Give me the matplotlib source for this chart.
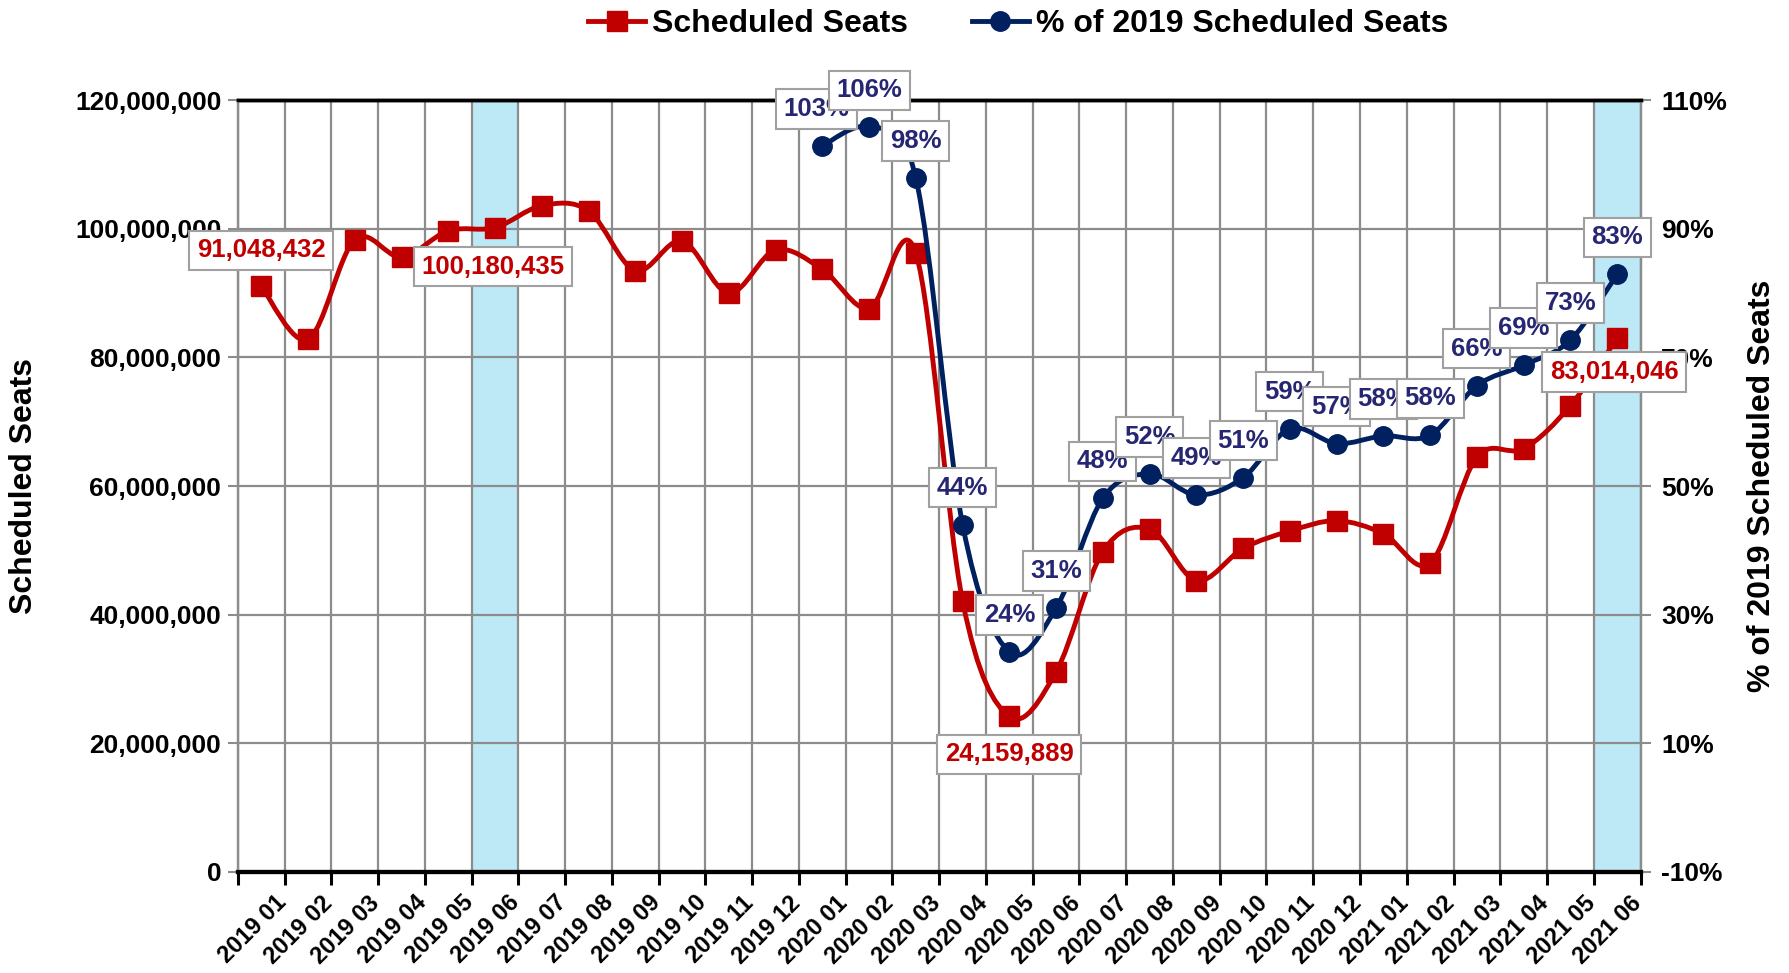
import matplotlib
matplotlib.use("Agg")
import matplotlib.pyplot as plt
from matplotlib.path import Path
from matplotlib.patches import PathPatch
from matplotlib.lines import Line2D
from matplotlib.ticker import FuncFormatter, FixedLocator

plt.rcParams['font.family'] = ['Liberation Sans', 'DejaVu Sans']
plt.rcParams['font.weight'] = 'bold'

months = ['2019 01', '2019 02', '2019 03', '2019 04', '2019 05', '2019 06',
          '2019 07', '2019 08', '2019 09', '2019 10', '2019 11', '2019 12',
          '2020 01', '2020 02', '2020 03', '2020 04', '2020 05', '2020 06',
          '2020 07', '2020 08', '2020 09', '2020 10', '2020 11', '2020 12',
          '2021 01', '2021 02', '2021 03', '2021 04', '2021 05', '2021 06']

# scheduled seats (labelled ones exact)
seats = [91048432, 82800000, 98300000, 95600000, 99700000, 100180435,
         103600000, 102800000, 93500000, 98100000, 90000000, 96700000,
         93700000, 87600000, 96200000, 42100000, 24159889, 31100000,
         49800000, 53300000, 45300000, 50300000, 53000000, 54600000,
         52600000, 48000000, 64500000, 65800000, 72500000, 83014046]

# % of 2019 seats, from 2020 01 on
pct_months = months[12:]
pct = [102.9, 105.8, 97.9, 44.0, 24.2, 31.0, 48.1, 51.9, 48.6, 51.3,
       58.9, 56.6, 57.8, 57.9, 65.6, 68.8, 72.7, 82.9]

seat_labels = {'2019 01': (0, 36), '2019 06': (-2, -39),
               '2020 05': (0, -38), '2021 06': (-3, -34)}
shaded = ['2019 06', '2021 06']

RED = '#C00000'
BLUE = '#002060'
BLUE_TXT = '#262673'


def smooth_path(xs, ys):
    # excel style smoothed line: bezier segments with catmull-rom tangents
    pts = list(zip(xs, ys))
    verts = [pts[0]]
    codes = [Path.MOVETO]
    n = len(pts)
    for i in range(n - 1):
        p0 = pts[i - 1] if i > 0 else pts[i]
        p1 = pts[i]
        p2 = pts[i + 1]
        p3 = pts[i + 2] if i + 2 < n else pts[i + 1]
        c1 = (p1[0] + (p2[0] - p0[0]) / 6, p1[1] + (p2[1] - p0[1]) / 6)
        c2 = (p2[0] - (p3[0] - p1[0]) / 6, p2[1] - (p3[1] - p1[1]) / 6)
        verts += [c1, c2, p2]
        codes += [Path.CURVE4] * 3
    return Path(verts, codes)


fig = plt.figure(figsize=(17.89, 9.73), dpi=100)
ax = fig.add_axes([0.133, 0.104, 0.784, 0.793])
ax2 = ax.twinx()

x = list(range(len(months)))
xp = [months.index(m) for m in pct_months]

for m in shaded:
    i = months.index(m)
    ax.axvspan(i - 0.5, i + 0.5, color='#BDE9F7', zorder=0, lw=0)

ax.set_xlim(-0.5, len(months) - 0.5)
ax.set_ylim(0, 120000000)
ax2.set_ylim(-10, 110)

ax.add_patch(PathPatch(smooth_path(x, seats), fill=False, ec=RED, lw=3.5,
                       zorder=3, capstyle='round', joinstyle='round'))
ax.plot(x, seats, ls='none', marker='s', ms=14, color=RED, zorder=4)

ax2.add_patch(PathPatch(smooth_path(xp, pct), fill=False, ec=BLUE, lw=3.5,
                        zorder=3, capstyle='round', joinstyle='round'))
ax2.plot(xp, pct, ls='none', marker='o', ms=14, color=BLUE, zorder=4)

# grid
ax.set_yticks(range(0, 120000001, 20000000))
ax.yaxis.set_major_formatter(FuncFormatter(lambda v, p: f'{int(v):,}'))
ax.grid(axis='y', color='#8C8C8C', lw=1.6, zorder=1)
ax.xaxis.set_minor_locator(FixedLocator([i - 0.5 for i in range(len(months) + 1)]))
ax.grid(axis='x', which='minor', color='#8C8C8C', lw=1.6, zorder=1)
ax.set_axisbelow(True)
# labels sit a bit right of the category centre, like the original
ax.set_xticks([i + 0.28 for i in x])
ax.set_xticklabels(months, rotation=45, ha='right', rotation_mode='anchor',
                   fontsize=17, fontweight='bold')
ax.tick_params(axis='x', which='major', length=0, pad=14)
ax.tick_params(axis='x', which='minor', length=9, width=2.2, color='black')
ax.tick_params(axis='y', length=7, width=1.5, color='#8C8C8C', labelsize=19, pad=5)

ax2.set_yticks(range(-10, 111, 20))
ax2.yaxis.set_major_formatter(FuncFormatter(lambda v, p: f'{v:.0f}%'))
ax2.tick_params(axis='y', length=7, width=1.5, color='#8C8C8C', labelsize=19, pad=8)

for a in (ax, ax2):
    for s in ('left', 'right'):
        a.spines[s].set_color('#8C8C8C')
        a.spines[s].set_linewidth(1.6)
    a.spines['top'].set_color('black')
    a.spines['top'].set_linewidth(2.5)
    a.spines['bottom'].set_color('black')
    a.spines['bottom'].set_linewidth(3)

ax.set_ylabel('Scheduled Seats', fontsize=23, fontweight='bold')
ax.yaxis.set_label_coords(-0.142, 0.5)
ax2.set_ylabel('% of 2019 Scheduled Seats', fontsize=23, fontweight='bold')
ax2.yaxis.set_label_coords(1.076, 0.5)

box = dict(boxstyle='square,pad=0.3', fc='white', ec='#A0A0A0', lw=1.5)

for m, off in seat_labels.items():
    i = months.index(m)
    ax2.annotate(f'{seats[i]:,}', xy=(i, seats[i]), xycoords=ax.transData,
                 xytext=off, textcoords='offset pixels', ha='center',
                 va='center', color=RED, fontsize=18.5, fontweight='bold',
                 bbox=box, zorder=6)

for i, (m, v) in enumerate(zip(pct_months, pct)):
    dx = -6 if i == 0 else 0
    ax2.annotate(f'{v:.0f}%', xy=(xp[i], v), xytext=(dx, 37),
                 textcoords='offset pixels', ha='center', va='center',
                 color=BLUE_TXT, fontsize=18.5, fontweight='bold',
                 bbox=box, zorder=6)

handles = [Line2D([], [], color=RED, lw=3.5, marker='s', ms=14),
           Line2D([], [], color=BLUE, lw=3.5, marker='o', ms=14)]
fig.legend(handles, ['Scheduled Seats', '% of 2019 Scheduled Seats'],
           loc='upper center', bbox_to_anchor=(0.569, 1.02), ncol=2,
           frameon=False, prop={'size': 23, 'weight': 'bold'},
           handlelength=1.8, handletextpad=0.2, columnspacing=2.0)

fig.savefig('out.png', dpi=100)
